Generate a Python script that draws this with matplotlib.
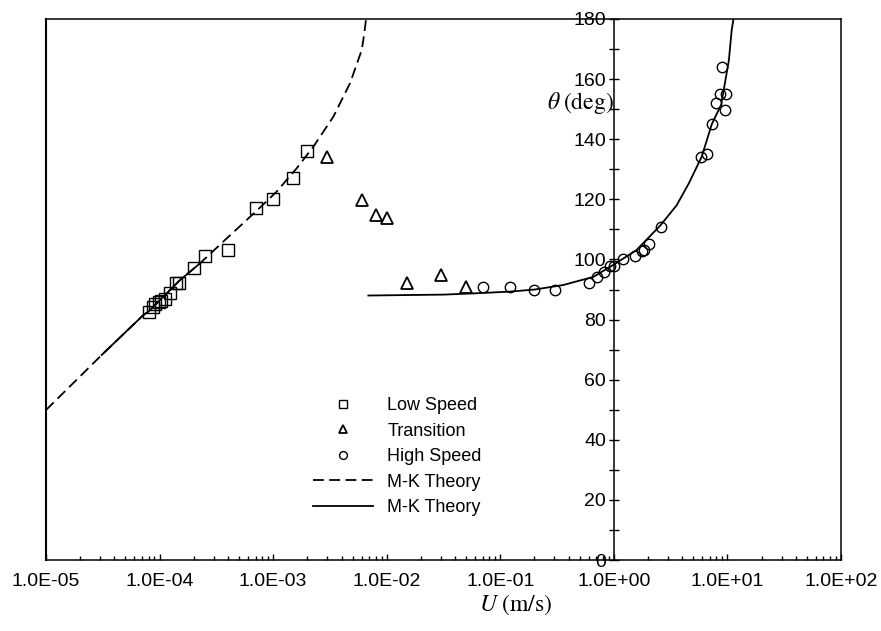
import numpy as np
import matplotlib
matplotlib.use("Agg")
import matplotlib.pyplot as plt
from matplotlib.ticker import FuncFormatter, MultipleLocator, LogLocator

plt.rcParams['font.family'] = ['Liberation Sans', 'DejaVu Sans']
plt.rcParams['mathtext.fontset'] = 'stix'

# data
low_u = [1.98e-3, 1.49e-3, 9.9e-4, 7.0e-4, 4.0e-4, 2.5e-4, 2.0e-4, 1.48e-4,
         1.39e-4, 1.24e-4, 1.12e-4, 1.04e-4, 9.8e-5, 9.1e-5, 8.8e-5, 8.0e-5]
low_t = [136.1, 127.2, 120.1, 117.1, 103.2, 101.2, 97.0, 92.0,
         92.3, 89.0, 87.0, 86.2, 85.9, 85.1, 84.3, 82.6]

tr_u = [3.0e-3, 6.0e-3, 8.0e-3, 1.01e-2, 1.5e-2, 3.0e-2, 5.0e-2]
tr_t = [134.0, 119.8, 114.8, 113.9, 92.0, 94.8, 90.7]

hi_u = [0.07, 0.122, 0.2, 0.305, 0.60, 0.71, 0.82, 0.92, 1.0, 1.21, 1.53,
        1.76, 1.84, 2.04, 2.6, 5.9, 6.6, 7.3, 8.0, 8.6, 9.7, 9.5, 8.9]
hi_t = [90.9, 90.9, 89.8, 89.8, 92.0, 94.0, 95.9, 97.8, 97.8, 100.0, 101.1,
        102.9, 103.1, 105.0, 110.9, 134.0, 135.0, 145.0, 152.1, 155.0, 155.0, 149.7, 164.1]

# M-K theory curves
mk1_u = [1e-5, 3.09e-5, 7.2e-5, 7.96e-5, 1.51e-4, 2.27e-4, 3.9e-4, 7.16e-4, 1.07e-3,
         1.61e-3, 2.26e-3, 3.39e-3, 4.75e-3, 6.03e-3, 6.35e-3, 6.58e-3]
mk1_t = [49.9, 68.2, 81.5, 82.6, 93.1, 98.7, 107.0, 116.2, 122.5,
         130.3, 137.5, 147.5, 158.6, 169.7, 175.2, 180.0]

mk2_u = [6.89e-3, 0.0316, 0.0578, 0.122, 0.202, 0.359, 0.66, 1.0, 1.58, 2.55, 3.57,
         4.57, 5.94, 7.28, 8.81, 10.3, 10.9, 11.3]
mk2_t = [88.0, 88.3, 88.7, 89.3, 90.0, 91.5, 94.2, 98.3, 103.1, 111.2, 118.0,
         125.3, 134.2, 145.0, 151.5, 166.3, 176.3, 180.0]

fig = plt.figure(figsize=(8.81, 6.31), dpi=100)
ax = fig.add_axes([0.0522, 0.1125, 0.9024, 0.8574])

ax.plot(low_u, low_t, 's', ms=8, mfc='none', mec='k', mew=1.0, label='Low Speed')
ax.plot(tr_u, tr_t, '^', ms=8, mfc='none', mec='k', mew=1.3, label='Transition')
ax.plot(hi_u, hi_t, 'o', ms=7.5, mfc='none', mec='k', mew=1.0, label='High Speed')
l1, = ax.plot(mk1_u, mk1_t, color='k', lw=1.3, label='M-K Theory')
l1.set_dashes((6, 3))
ax.plot(mk1_u[1:6], mk1_t[1:6], color='k', lw=1.3, label='_nolegend_')
ax.plot(mk2_u, mk2_t, color='k', lw=1.3, label='M-K Theory')

ax.set_xscale('log')
ax.set_xlim(1e-5, 1e2)
ax.set_ylim(0, 180)

for s in ax.spines.values():
    s.set_linewidth(1.1)
ax.spines['left'].set_position(('data', 1.0))
ax.axvline(1e-5, color='k', lw=1.5, clip_on=False)

ax.xaxis.set_major_locator(LogLocator(base=10, numticks=20))
ax.xaxis.set_minor_locator(LogLocator(base=10, subs=np.arange(2, 10), numticks=20))
ax.xaxis.set_major_formatter(FuncFormatter(lambda v, p: f"{v:.1E}"))
ax.tick_params(axis='x', which='major', direction='in', length=4.5, width=1, labelsize=14, pad=9)
ax.tick_params(axis='x', which='minor', direction='in', length=3, width=1)

ax.yaxis.set_major_locator(MultipleLocator(20))
ax.yaxis.set_minor_locator(MultipleLocator(10))
ax.tick_params(axis='y', which='both', direction='inout', length=7, width=1, labelsize=14, pad=2)

ax.text(0.99, 152, r'$\theta\;\mathrm{(deg)}$', fontsize=17, ha='right', va='center')
fig.text(0.5436, 0.041, r'$U\ \mathrm{(m/s)}$', fontsize=17, ha='left', va='center')

ax.legend(loc='upper left', bbox_to_anchor=(0.316, 0.331), frameon=False,
          fontsize=13, handlelength=3.3, handletextpad=0.8, labelspacing=0.47,
          markerscale=0.75)

fig.savefig('out.png', dpi=100)
